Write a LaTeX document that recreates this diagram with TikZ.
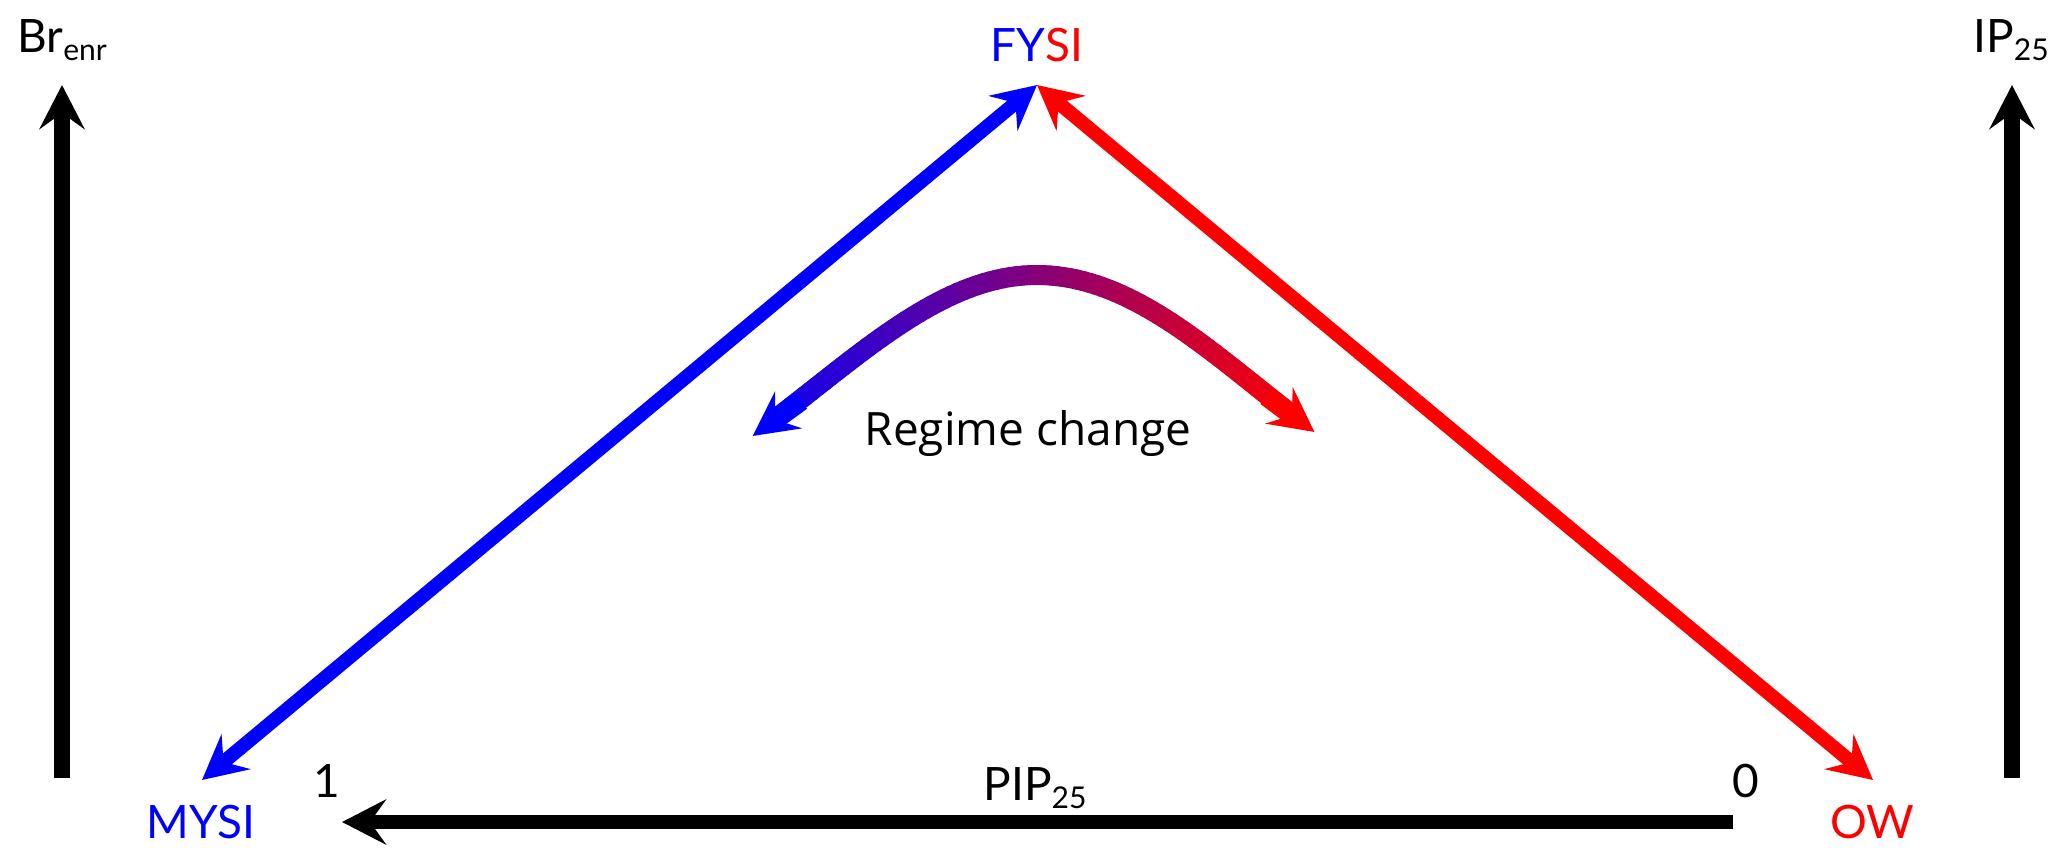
\documentclass[tikz,border=0pt]{standalone}
\usepackage{fontspec}
\setmainfont{Lato}
\newfontfamily\regfont{Open Sans}
\usetikzlibrary{arrows.meta}
\newcommand{\lowsub}[1]{\raisebox{-4pt}{\fontsize{15}{15}\selectfont #1}}
\tikzset{
  lbl/.style={inner sep=0pt, anchor=base, font=\fontsize{23}{28}\selectfont},
  headtip/.tip={Stealth[length=22pt,width=22.5pt,inset=8pt]},
  axisarrow/.style={line width=8pt, -headtip},
  diagarrow/.style={line width=7pt, headtip-headtip},
  gradseg/.style={line width=10pt, line cap=round},
  declare function={bz(\s,\ka,\kb,\kc,\kd)=(1-\s)^3*\ka+3*(1-\s)^2*\s*\kb+3*(1-\s)*\s^2*\kc+\s^3*\kd;}
}
\begin{document}
\begin{tikzpicture}[x=0.5pt,y=-0.5pt]
\useasboundingbox (0,0) rectangle (2067,864);
% coordinates
\coordinate (lb) at (62,778);
\coordinate (lt) at (62,85);
\coordinate (rb) at (2012,778);
\coordinate (rt) at (2012,85);
\coordinate (bs) at (1733,822);
\coordinate (be) at (342,822);
\coordinate (top) at (1037,85);
\coordinate (mtip) at (202,780);
\coordinate (otip) at (1873,780);
% labels
\node[lbl, anchor=base west] (br) at (17,52) {Br\lowsub{enr}};
\node[lbl, anchor=base west] (ip) at (1973,52) {IP\lowsub{25}};
\node[lbl] (fysi) at (1037,61) {\textcolor{blue}{FY}\textcolor{red}{SI}};
\node[lbl, text=blue] (mysi) at (201,838) {MYSI};
\node[lbl, text=red] (ow) at (1872,838) {OW};
\node[lbl] (one) at (327,797) {1};
\node[lbl] (zero) at (1746,797) {0};
\node[lbl] (pip) at (1035,800) {PIP\lowsub{25}};
\node[lbl, font=\fontsize{23}{28}\regfont] (reg) at (1028,445) {Regime change};
% axes
\draw[axisarrow] (lb) -- (lt);
\draw[axisarrow] (rb) -- (rt);
\draw[line width=7pt, -headtip] (bs) -- (be);
% diagonals
\draw[diagarrow, blue] (mtip) -- (top);
\draw[diagarrow, red] (top) -- (otip);
% gradient curve
\coordinate (cl) at (752.6,436);
\coordinate (cr) at (1314.5,432);
\foreach \i in {0,...,39}{
  \pgfmathsetmacro\ta{0.09+0.91*\i/40}
  \pgfmathsetmacro\tb{0.09+0.91*(\i+1)/40}
  \pgfmathsetmacro\xa{bz(\ta,752.6,849.7,936.7,1036.7)}
  \pgfmathsetmacro\ya{bz(\ta,436,365.4,275,275)}
  \pgfmathsetmacro\xb{bz(\tb,752.6,849.7,936.7,1036.7)}
  \pgfmathsetmacro\yb{bz(\tb,436,365.4,275,275)}
  \pgfmathtruncatemacro\pc{100-((\xa+\xb)/2-752.6)/5.62}
  \draw[gradseg, color=blue!\pc!red] (\xa,\ya) -- (\xb,\yb);
}
\foreach \i in {0,...,39}{
  \pgfmathsetmacro\ta{0.91*\i/40}
  \pgfmathsetmacro\tb{0.91*(\i+1)/40}
  \pgfmathsetmacro\xa{bz(\ta,1036.7,1136.7,1218.5,1314.5)}
  \pgfmathsetmacro\ya{bz(\ta,275,275,360,432)}
  \pgfmathsetmacro\xb{bz(\tb,1036.7,1136.7,1218.5,1314.5)}
  \pgfmathsetmacro\yb{bz(\tb,275,275,360,432)}
  \pgfmathtruncatemacro\pc{100-((\xa+\xb)/2-752.6)/5.62}
  \draw[gradseg, color=blue!\pc!red] (\xa,\ya) -- (\xb,\yb);
}
\coordinate (clb) at (801.1,400.7);
\coordinate (crb) at (1266.5,396);
\draw[line width=10pt, blue, -headtip] (clb) -- (cl);
\draw[line width=10pt, red, -headtip] (crb) -- (cr);
\end{tikzpicture}
\end{document}
